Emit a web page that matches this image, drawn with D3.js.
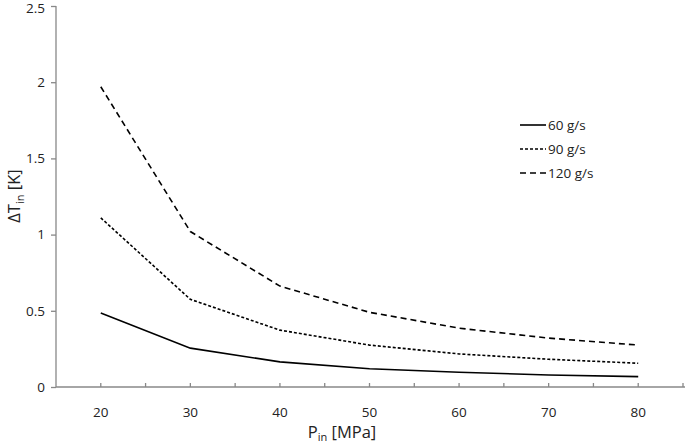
<!DOCTYPE html>
<html>
<head>
<meta charset="utf-8">
<script type="text/javascript" src="https://d3js.org/d3.v7.min.js"></script>
<style>
  body { margin: 0; padding: 0; background: #ffffff; }
  text { font-family: "Open Sans", "DejaVu Sans", sans-serif; fill: #222; }
  .axis path, .axis line { stroke: #888; stroke-width: 1.3; }
  .axis text { font-size: 13.5px; }
</style>
</head>
<body>
<div id="chart"></div>
<script>
// data
var pressures = [20, 30, 40, 50, 60, 70, 80];
var flow60  = [0.485, 0.255, 0.165, 0.12, 0.097, 0.079, 0.068];
var flow90  = [1.11, 0.575, 0.373, 0.275, 0.217, 0.182, 0.156];
var flow120 = [1.97, 1.02, 0.662, 0.49, 0.386, 0.321, 0.275];
var seriesNames = ["60 g/s", "90 g/s", "120 g/s"];
var xTicks = [20, 30, 40, 50, 60, 70, 80];
var yTicks = [0, 0.5, 1, 1.5, 2, 2.5];

var width = 685, height = 443;

var svg = d3.select("#chart").append("svg")
    .attr("width", width)
    .attr("height", height);

var x = d3.scaleLinear().domain([15, 85]).range([56, 683]);
var y = d3.scaleLinear().domain([0, 2.5]).range([387, 6]);

// y axis, ticks outward
svg.append("g")
    .attr("class", "axis")
    .attr("transform", "translate(56,0)")
    .call(d3.axisLeft(y).tickValues(yTicks).tickSize(5).tickSizeOuter(0).tickPadding(6)
        .tickFormat(function(d) { return d; }))
    .call(function(g) {
        g.select(".domain").attr("d", "M0,6V387");
        g.selectAll(".tick text").attr("dy", function(d) { return d === 2.5 ? "0.45em" : "0.32em"; });
    });

// x axis: minor ticks every 5, pointing up
var xMinor = d3.range(15, 86, 5);
var xg = svg.append("g")
    .attr("class", "axis")
    .attr("transform", "translate(0,387)");
xg.append("line").attr("x1", 56).attr("x2", 685).attr("y1", 0).attr("y2", 0)
    .attr("stroke", "#888").attr("stroke-width", 1.3);
xg.selectAll("line.tk").data(xMinor.slice(1)).enter().append("line")
    .attr("class", "tk")
    .attr("x1", function(d) { return x(d); })
    .attr("x2", function(d) { return x(d); })
    .attr("y1", 0).attr("y2", -4)
    .attr("stroke", "#888").attr("stroke-width", 1.3);
xg.selectAll("text.lb").data(xTicks).enter().append("text")
    .attr("class", "lb")
    .attr("x", function(d) { return x(d); })
    .attr("y", 30)
    .attr("text-anchor", "middle")
    .style("font-size", "13.5px")
    .text(function(d) { return d; });

// axis titles
var xt = svg.append("text").attr("x", 342).attr("y", 438)
    .attr("text-anchor", "middle").style("font-size", "16.5px");
xt.append("tspan").text("P");
xt.append("tspan").attr("dy", 3).style("font-size", "11px").text("in");
xt.append("tspan").attr("dy", -3).text(" [MPa]");

var yt = svg.append("text")
    .attr("transform", "translate(20,196) rotate(-90)")
    .attr("text-anchor", "middle").style("font-size", "16.5px");
yt.append("tspan").text("ΔT");
yt.append("tspan").attr("dy", 4).style("font-size", "11px").text("in");
yt.append("tspan").attr("dy", -4).text(" [K]");

// lines
var series = [
  { name: seriesNames[0], values: flow60, dash: null },
  { name: seriesNames[1], values: flow90, dash: "3,2" },
  { name: seriesNames[2], values: flow120, dash: "6,4" }
];

var line = d3.line()
    .x(function(d, i) { return x(pressures[i]); })
    .y(function(d) { return y(d); });

svg.selectAll("path.series").data(series).enter().append("path")
    .attr("class", "series")
    .attr("d", function(s) { return line(s.values); })
    .attr("fill", "none")
    .attr("stroke", "#000")
    .attr("stroke-width", 1.6)
    .attr("stroke-dasharray", function(s) { return s.dash; });

// legend
var lg = svg.append("g").attr("transform", "translate(520,125)");
var items = lg.selectAll("g").data(series).enter().append("g")
    .attr("transform", function(d, i) { return "translate(0," + (i * 24) + ")"; });
items.append("line")
    .attr("x1", 0).attr("x2", 26).attr("y1", 0).attr("y2", 0)
    .attr("stroke", "#000").attr("stroke-width", 1.6)
    .attr("stroke-dasharray", function(s) { return s.dash; });
items.append("text")
    .attr("x", 28).attr("y", 5)
    .style("font-size", "13.5px")
    .text(function(s) { return s.name; });
</script>
</body>
</html>
